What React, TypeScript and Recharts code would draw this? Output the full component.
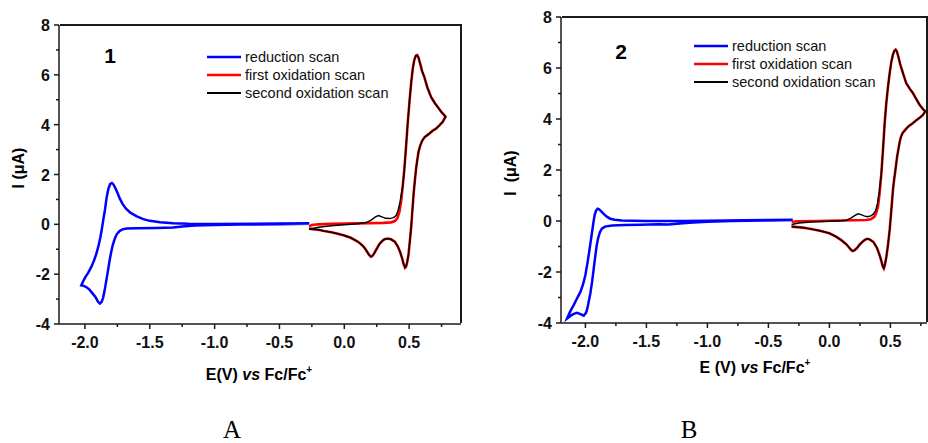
import React from 'react';
import { LineChart, Line, XAxis, YAxis } from 'recharts';

// potentials (V vs Fc/Fc+) and currents (µA)
type Pt = [number, number];

// ---- panel A (compound 1) ----
const reductionA: Pt[] = [
  [-0.27, 0.02], [-0.5, 0.0], [-0.8, -0.01], [-1.0, -0.03], [-1.15, -0.05], [-1.25, -0.09],
  [-1.32, -0.13], [-1.45, -0.15], [-1.6, -0.16], [-1.68, -0.17], [-1.71, -0.2], [-1.735, -0.28],
  [-1.755, -0.4], [-1.77, -0.58], [-1.785, -0.82], [-1.795, -1.05], [-1.81, -1.45], [-1.822, -1.85],
  [-1.835, -2.25], [-1.848, -2.65], [-1.86, -2.95], [-1.872, -3.12], [-1.885, -3.18], [-1.9, -3.1],
  [-1.918, -2.92], [-1.94, -2.78], [-1.965, -2.62], [-1.99, -2.52], [-2.01, -2.47], [-2.028, -2.45],
  [-2.015, -2.3], [-1.995, -2.1], [-1.975, -1.95], [-1.95, -1.7], [-1.93, -1.45], [-1.91, -1.15],
  [-1.895, -0.85], [-1.882, -0.55], [-1.87, -0.2], [-1.858, 0.2], [-1.845, 0.6], [-1.832, 1.1],
  [-1.818, 1.45], [-1.805, 1.62], [-1.792, 1.66], [-1.78, 1.6], [-1.765, 1.45], [-1.75, 1.28],
  [-1.73, 1.02], [-1.71, 0.82], [-1.685, 0.64], [-1.65, 0.47], [-1.6, 0.32], [-1.55, 0.21],
  [-1.5, 0.14], [-1.42, 0.08], [-1.32, 0.04], [-1.2, 0.02], [-1.0, 0.01], [-0.7, 0.02],
  [-0.5, 0.03], [-0.27, 0.04],
];

const oxPeakA: Pt[] = [
  [0.45, 1.5], [0.463, 2.2], [0.476, 3.1], [0.489, 4.05], [0.503, 4.95], [0.516, 5.7],
  [0.528, 6.25], [0.54, 6.6], [0.552, 6.77], [0.562, 6.79], [0.572, 6.7], [0.585, 6.45],
  [0.6, 6.15], [0.618, 5.9], [0.64, 5.5], [0.67, 5.1], [0.7, 4.85], [0.722, 4.7], [0.75, 4.5],
  [0.781, 4.32],
  [0.76, 4.12], [0.735, 3.98], [0.71, 3.85], [0.68, 3.75], [0.65, 3.62], [0.62, 3.5],
  [0.6, 3.35], [0.585, 3.15], [0.572, 2.9], [0.562, 2.55], [0.554, 2.25], [0.545, 1.8],
  [0.535, 1.25], [0.525, 0.55], [0.516, -0.1], [0.505, -0.7], [0.495, -1.22], [0.485, -1.52],
  [0.476, -1.7], [0.468, -1.74], [0.458, -1.6], [0.445, -1.35], [0.43, -1.1], [0.412, -0.88],
  [0.39, -0.7], [0.36, -0.6], [0.335, -0.57], [0.31, -0.6], [0.29, -0.68], [0.27, -0.8],
  [0.25, -0.98], [0.23, -1.17], [0.215, -1.28], [0.205, -1.3], [0.19, -1.22], [0.17, -1.05],
  [0.15, -0.9], [0.125, -0.78], [0.1, -0.68], [0.05, -0.54], [0.0, -0.45], [-0.05, -0.38],
  [-0.1, -0.32], [-0.155, -0.27], [-0.2, -0.22],
];

const firstOxA: Pt[] = [
  [-0.272, -0.08], [-0.25, -0.03], [-0.2, 0.0], [-0.1, 0.02], [0.0, 0.03], [0.1, 0.04],
  [0.2, 0.05], [0.3, 0.06], [0.36, 0.08], [0.39, 0.13], [0.41, 0.25], [0.425, 0.5],
  [0.438, 0.9], ...oxPeakA, [-0.272, -0.17],
];

const secondOxA: Pt[] = [
  [-0.272, -0.2], [-0.2, -0.12], [-0.1, -0.06], [0.0, -0.02], [0.1, 0.02], [0.17, 0.07],
  [0.21, 0.18], [0.24, 0.3], [0.265, 0.35], [0.29, 0.3], [0.32, 0.24], [0.35, 0.23],
  [0.38, 0.27], [0.4, 0.35], [0.415, 0.55], [0.43, 0.9], ...oxPeakA, [-0.272, -0.2],
];

// ---- panel B (compound 2) ----
const reductionB: Pt[] = [
  [-0.3, 0.03], [-0.5, 0.02], [-0.8, 0.0], [-1.0, -0.03], [-1.15, -0.07], [-1.25, -0.11],
  [-1.32, -0.14], [-1.4, -0.13], [-1.55, -0.15], [-1.68, -0.16], [-1.78, -0.18], [-1.84, -0.22],
  [-1.865, -0.3], [-1.882, -0.45], [-1.896, -0.68], [-1.907, -0.95], [-1.918, -1.34],
  [-1.93, -1.8], [-1.945, -2.38], [-1.96, -2.85], [-1.973, -3.17], [-1.985, -3.45],
  [-1.995, -3.6], [-2.014, -3.71], [-2.04, -3.65], [-2.068, -3.6], [-2.09, -3.63],
  [-2.11, -3.68], [-2.13, -3.75], [-2.15, -3.82],
  [-2.13, -3.6], [-2.11, -3.42], [-2.096, -3.3], [-2.07, -3.05], [-2.041, -2.78],
  [-2.02, -2.5], [-2.0, -2.12], [-1.985, -1.7], [-1.973, -1.34], [-1.958, -0.85],
  [-1.945, -0.42], [-1.934, -0.05], [-1.924, 0.24], [-1.912, 0.42], [-1.9, 0.48],
  [-1.888, 0.46], [-1.87, 0.38], [-1.85, 0.28], [-1.825, 0.17], [-1.796, 0.09], [-1.76, 0.05],
  [-1.7, 0.02], [-1.5, 0.0], [-1.2, 0.0], [-1.0, 0.01], [-0.7, 0.03], [-0.5, 0.04], [-0.3, 0.05],
];

const oxPeakB: Pt[] = [
  [0.426, 1.87], [0.44, 2.85], [0.453, 3.84], [0.466, 4.6], [0.48, 5.25], [0.494, 5.8],
  [0.508, 6.25], [0.521, 6.53], [0.533, 6.68], [0.543, 6.72], [0.553, 6.65], [0.565, 6.45],
  [0.58, 6.15], [0.603, 5.8], [0.63, 5.4], [0.66, 5.18], [0.684, 5.02], [0.71, 4.8],
  [0.739, 4.56], [0.765, 4.4], [0.786, 4.3],
  [0.765, 4.15], [0.74, 4.05], [0.712, 3.95], [0.68, 3.82], [0.65, 3.72], [0.63, 3.62],
  [0.6, 3.45], [0.585, 3.28], [0.576, 3.1], [0.565, 2.8], [0.556, 2.55], [0.549, 2.3],
  [0.54, 1.95], [0.53, 1.6], [0.521, 1.22], [0.508, 0.45], [0.494, -0.35], [0.48, -0.95],
  [0.467, -1.4], [0.455, -1.72], [0.446, -1.86], [0.437, -1.78], [0.425, -1.55], [0.41, -1.32],
  [0.395, -1.12], [0.385, -1.01], [0.36, -0.82], [0.33, -0.72], [0.31, -0.7], [0.29, -0.74],
  [0.27, -0.82], [0.249, -0.92], [0.228, -1.05], [0.208, -1.14], [0.19, -1.18], [0.175, -1.12],
  [0.158, -1.02], [0.14, -0.92], [0.1, -0.76], [0.058, -0.62], [0.0, -0.48], [-0.078, -0.38],
  [-0.15, -0.31], [-0.215, -0.26],
];

const firstOxB: Pt[] = [
  [-0.31, -0.03], [-0.25, -0.01], [-0.1, 0.0], [0.0, 0.01], [0.1, 0.02], [0.2, 0.03],
  [0.3, 0.04], [0.34, 0.07], [0.37, 0.17], [0.385, 0.33], [0.398, 0.56], [0.412, 1.1],
  ...oxPeakB, [-0.31, -0.22],
];

const secondOxB: Pt[] = [
  [-0.31, -0.14], [-0.25, -0.08], [-0.15, -0.04], [0.0, -0.01], [0.1, 0.01], [0.14, 0.03],
  [0.18, 0.12], [0.21, 0.22], [0.235, 0.28], [0.26, 0.25], [0.285, 0.2], [0.31, 0.17],
  [0.34, 0.2], [0.36, 0.27], [0.38, 0.42], [0.395, 0.7], [0.41, 1.2], ...oxPeakB, [-0.31, -0.22],
];

const xTicks = [-2.0, -1.75, -1.5, -1.25, -1.0, -0.75, -0.5, -0.25, 0.0, 0.25, 0.5, 0.75];
const yTicks = [-4, -3, -2, -1, 0, 1, 2, 3, 4, 5, 6, 7, 8];
const legendNames = ['reduction scan', 'first oxidation scan', 'second oxidation scan'];

const AXIS = '#1a1a1a';
const FONT = 'Arial, "Liberation Sans", Helvetica, sans-serif';
const BLUE = '#0000ff';
const RED = '#ff0000';
const BLACK = '#000000';

const toRows = (pts: Pt[]) => pts.map(([x, y]) => ({ x, y }));

const XTick = (props: any) => {
  const { x, y, payload } = props;
  const v = payload.value as number;
  const major = Math.abs(v * 2 - Math.round(v * 2)) < 1e-6;
  return (
    <g>
      <line x1={x} x2={x} y1={y} y2={y + (major ? 5 : 3)} stroke={AXIS} strokeWidth={1.5} />
      {major && (
        <text x={x} y={y + 24} textAnchor='middle' fontFamily={FONT} fontWeight='bold' fontSize={16} fill='#111'>
          {v.toFixed(1)}
        </text>
      )}
    </g>
  );
};

const YTick = (props: any) => {
  const { x, y, payload } = props;
  const v = payload.value as number;
  const major = v % 2 === 0;
  return (
    <g>
      <line x1={x} x2={x - (major ? 5 : 3)} y1={y} y2={y} stroke={AXIS} strokeWidth={1.5} />
      {major && (
        <text x={x - 9} y={y + 6} textAnchor='end' fontFamily={FONT} fontWeight='bold' fontSize={16} fill='#111'>
          {v}
        </text>
      )}
    </g>
  );
};

type Box = { left: number; width: number; top: number; right: number; bottom: number; inner: number };

// plot boxes of the two panels (page pixels); the YAxis is 50px wide, the XAxis 30px high
const boxA: Box = { left: 0, width: 470, top: 25, right: 9, bottom: 89, inner: 9 };
const boxB: Box = { left: 470, width: 458, top: 17, right: 1, bottom: 90, inner: 41 };

function Panel({ box, xMax, red, ox1, ox2 }: { box: Box; xMax: number; red: Pt[]; ox1: Pt[]; ox2: Pt[] }) {
  const domainX: [number, number] = [-2.2, xMax];
  const domainY: [number, number] = [-4, 8];
  const plotLeft = box.inner + 50;
  const plotRight = box.width - box.right;
  const plotBottom = 443 - box.bottom - 30;
  return (
    <div style={{ position: 'absolute', left: box.left, top: 0, width: box.width, height: 443 }}>
      <LineChart width={box.width} height={443} margin={{ top: box.top, right: box.right, bottom: box.bottom, left: box.inner }}>
        <XAxis
          type='number' dataKey='x' domain={domainX} ticks={xTicks} interval={0} allowDataOverflow
          tickSize={0} tickMargin={0} tickLine={false} tick={<XTick />} height={30}
          axisLine={{ stroke: AXIS, strokeWidth: 1.5 }}
        />
        <YAxis
          type='number' domain={domainY} ticks={yTicks} interval={0} allowDataOverflow
          tickSize={0} tickMargin={0} tickLine={false} tick={<YTick />} width={50}
          axisLine={{ stroke: AXIS, strokeWidth: 1.5 }}
        />
        <Line data={toRows(red)} dataKey='y' type='linear' stroke={BLUE} strokeWidth={2.5} dot={false} isAnimationActive={false} />
        <Line data={toRows(ox1)} dataKey='y' type='linear' stroke={RED} strokeWidth={2.6} dot={false} isAnimationActive={false} />
        <Line data={toRows(ox2)} dataKey='y' type='linear' stroke={BLACK} strokeWidth={1.5} dot={false} isAnimationActive={false} />
      </LineChart>
      {/* top and right sides of the frame */}
      <div
        style={{
          position: 'absolute', left: plotLeft, top: box.top - 1, width: plotRight - plotLeft,
          height: plotBottom - box.top, borderTop: `2px solid ${AXIS}`, borderRight: `2px solid ${AXIS}`,
          boxSizing: 'border-box', pointerEvents: 'none', transform: 'translateX(1px)',
        }}
      />
    </div>
  );
}

function Legend({ x, y }: { x: number; y: number }) {
  const colors = [BLUE, RED, BLACK];
  const widths = [2.5, 2.5, 1.8];
  return (
    <g>
      {legendNames.map((name, i) => (
        <g key={name}>
          <line x1={x} x2={x + 34} y1={y + i * 18} y2={y + i * 18} stroke={colors[i]} strokeWidth={widths[i]} />
          <text x={x + 38} y={y + i * 18 + 5} fontFamily={FONT} fontSize={14.5} fill='#111'>{name}</text>
        </g>
      ))}
    </g>
  );
}

export default function App() {
  return (
    <div style={{ position: 'absolute', left: 0, top: 0, width: 928, height: 443, background: '#fff', overflow: 'hidden' }}>
      <Panel box={boxA} xMax={0.9} red={reductionA} ox1={firstOxA} ox2={secondOxA} />
      <Panel box={boxB} xMax={0.8} red={reductionB} ox1={firstOxB} ox2={secondOxB} />
      <svg width={928} height={443} style={{ position: 'absolute', left: 0, top: 0, pointerEvents: 'none' }}>
        <text x={110} y={63} textAnchor='middle' fontFamily={FONT} fontWeight='bold' fontSize={21}>1</text>
        <text x={621} y={59} textAnchor='middle' fontFamily={FONT} fontWeight='bold' fontSize={21}>2</text>
        <Legend x={207} y={57} />
        <Legend x={694} y={46} />
        <text transform='translate(24,168) rotate(-90)' textAnchor='middle' fontFamily={FONT} fontWeight='bold' fontSize={16}>
          I (μA)
        </text>
        <text transform='translate(516,173) rotate(-90)' textAnchor='middle' fontFamily={FONT} fontWeight='bold' fontSize={16}>
          {'I\u00a0 (μA)'}
        </text>
        <text x={259} y={380} textAnchor='middle' fontFamily={FONT} fontWeight='bold' fontSize={16}>
          E(V) <tspan fontStyle='italic'>vs</tspan> Fc/Fc<tspan dy={-7} fontSize={10}>+</tspan>
        </text>
        <text x={755} y={373} textAnchor='middle' fontFamily={FONT} fontWeight='bold' fontSize={16}>
          E (V) <tspan fontStyle='italic'>vs</tspan> Fc/Fc<tspan dy={-7} fontSize={10}>+</tspan>
        </text>
        <text x={232} y={438} textAnchor='middle' fontFamily='"Liberation Serif", "Times New Roman", serif' fontSize={25}>A</text>
        <text x={689} y={438} textAnchor='middle' fontFamily='"Liberation Serif", "Times New Roman", serif' fontSize={25}>B</text>
      </svg>
    </div>
  );
}
